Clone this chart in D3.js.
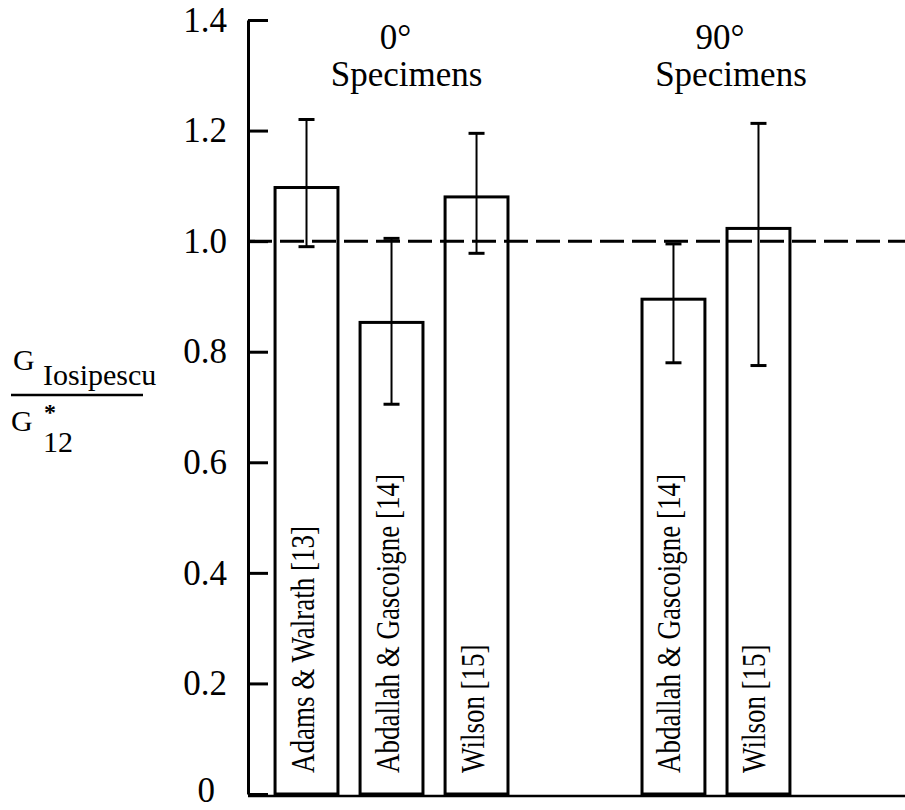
<!DOCTYPE html>
<meta charset="utf-8" />
<style>
  body { margin: 0; background: #fff; }
  text { font-family: "Liberation Serif", "Times New Roman", serif; fill: #000; }
</style>
<body>
  <div id="my_dataviz"></div>
  <script src="https://d3js.org/d3.v7.min.js"></script>
  <script>
    // data
    var groups = ["0°", "90°"];
    var barGroup = ["0°", "0°", "0°", "90°", "90°"];
    var barLabels = [
      "Adams & Walrath [13]",
      "Abdallah & Gascoigne [14]",
      "Wilson [15]",
      "Abdallah & Gascoigne [14]",
      "Wilson [15]"
    ];
    var ratio = [1.097, 0.853, 1.08, 0.895, 1.023];
    var errLow = [0.99, 0.705, 0.978, 0.78, 0.775];
    var errHigh = [1.22, 1.005, 1.195, 0.995, 1.213];
    var yTicks = [0, 0.2, 0.4, 0.6, 0.8, 1.0, 1.2, 1.4];
    var refValue = 1.0;

    var W = 905, H = 810;
    var axisX = 248;

    var svg = d3
      .select("#my_dataviz")
      .append("svg")
      .attr("width", W)
      .attr("height", H);

    // y scale
    var y = d3.scaleLinear().domain([0, 1.4]).range([794, 20]);

    // x: one band per group, then slots inside each group
    var xGroup = d3
      .scaleBand()
      .domain(groups)
      .range([264, 886])
      .paddingInner(0.305)
      .paddingOuter(0);
    var xInner = d3
      .scaleBand()
      .domain([0, 1, 2])
      .range([0, xGroup.bandwidth()])
      .paddingInner(0.26)
      .paddingOuter(0.13);

    var data = ratio.map(function(v, i) {
      var slot = barGroup.slice(0, i).filter(function(g) {
        return g === barGroup[i];
      }).length;
      return {
        group: barGroup[i],
        slot: slot,
        label: barLabels[i],
        value: v,
        lo: errLow[i],
        hi: errHigh[i]
      };
    });
    function barX(d) {
      return xGroup(d.group) + xInner(d.slot);
    }
    function barCx(d) {
      return barX(d) + xInner.bandwidth() / 2;
    }

    // bars
    svg
      .selectAll(".bar")
      .data(data)
      .enter()
      .append("rect")
      .attr("class", "bar")
      .attr("x", barX)
      .attr("y", function(d) { return y(d.value); })
      .attr("width", xInner.bandwidth())
      .attr("height", function(d) { return y(0) - y(d.value); })
      .attr("fill", "#fff")
      .attr("stroke", "#000")
      .attr("stroke-width", 3);

    // rotated labels inside the bars
    svg
      .selectAll(".barlabel")
      .data(data)
      .enter()
      .append("text")
      .attr("class", "barlabel")
      .attr("transform", function(d) {
        return "translate(" + (barCx(d) + 7) + "," + (y(0) - 21) + ") rotate(-90) scale(1,1.25)";
      })
      .style("font-size", "27px")
      .text(function(d) { return d.label; });

    // dashed reference line at 1.0
    svg
      .append("line")
      .attr("x1", axisX)
      .attr("x2", W)
      .attr("y1", y(refValue))
      .attr("y2", y(refValue))
      .attr("stroke", "#000")
      .attr("stroke-width", 3)
      .attr("stroke-dasharray", "24,8");

    // error bars
    var err = svg.selectAll(".err").data(data).enter().append("g").attr("class", "err");
    err
      .append("line")
      .attr("x1", barCx)
      .attr("x2", barCx)
      .attr("y1", function(d) { return y(d.lo); })
      .attr("y2", function(d) { return y(d.hi); })
      .attr("stroke", "#000")
      .attr("stroke-width", 2);
    ["lo", "hi"].forEach(function(k) {
      err
        .append("line")
        .attr("x1", function(d) { return barCx(d) - 8; })
        .attr("x2", function(d) { return barCx(d) + 8; })
        .attr("y1", function(d) { return y(d[k]); })
        .attr("y2", function(d) { return y(d[k]); })
        .attr("stroke", "#000")
        .attr("stroke-width", 3);
    });

    // y axis, ticks pointing inward
    var yAxis = svg
      .append("g")
      .attr("transform", "translate(" + axisX + ",0)")
      .call(
        d3
          .axisLeft(y)
          .tickValues(yTicks)
          .tickSize(-20)
          .tickSizeOuter(0)
          .tickPadding(21)
          .tickFormat(function(d) { return d === 0 ? "0" : d3.format(".1f")(d); })
      );
    yAxis.select(".domain").attr("stroke", "#000").attr("stroke-width", 3);
    yAxis.selectAll(".tick line").attr("stroke", "#000").attr("stroke-width", 3);
    yAxis
      .selectAll(".tick text")
      .style("font-family", "'Liberation Serif', 'Times New Roman', serif")
      .style("font-size", "35px")
      .attr("fill", "#000");
    // the "0" sits a little further left and higher in the original
    yAxis
      .selectAll(".tick text")
      .filter(function(d) { return d === 0; })
      .attr("x", -33)
      .attr("dy", "0.22em");

    // baseline
    svg
      .append("line")
      .attr("x1", axisX)
      .attr("x2", W)
      .attr("y1", y(0) + 2)
      .attr("y2", y(0) + 2)
      .attr("stroke", "#000")
      .attr("stroke-width", 2.5);

    // group headings
    groups.forEach(function(g) {
      var bars = data.filter(function(d) { return d.group === g; });
      var cx = d3.mean(bars, barCx);
      svg
        .append("text")
        .attr("x", cx + 4)
        .attr("y", 49)
        .attr("text-anchor", "middle")
        .style("font-size", "35px")
        .text(g);
      svg
        .append("text")
        .attr("x", cx + 15)
        .attr("y", 86)
        .attr("text-anchor", "middle")
        .style("font-size", "35px")
        .text("Specimens");
    });

    // y axis title: G_Iosipescu / G*_12
    var num = svg
      .append("text")
      .attr("x", 13)
      .attr("y", 370)
      .style("font-size", "30px");
    num.append("tspan").text("G");
    num.append("tspan").attr("x", 43).attr("dy", 15).text("Iosipescu");

    svg
      .append("line")
      .attr("x1", 11)
      .attr("x2", 143)
      .attr("y1", 395)
      .attr("y2", 395)
      .attr("stroke", "#000")
      .attr("stroke-width", 2.5);

    var den = svg
      .append("text")
      .attr("x", 11)
      .attr("y", 431)
      .style("font-size", "30px");
    den.append("tspan").text("G");
    den
      .append("tspan")
      .attr("x", 44)
      .attr("dy", -11)
      .style("font-weight", "bold")
      .style("font-size", "24px")
      .text("*");
    den.append("tspan").attr("x", 43).attr("dy", 32).text("12");
  </script>
</body>
